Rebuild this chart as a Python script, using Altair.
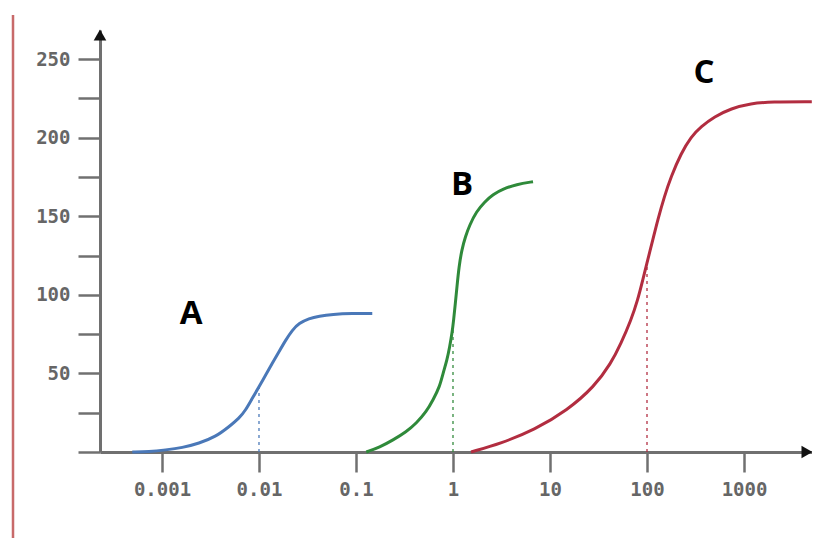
import altair as alt
import pandas as pd

# ---- data ----
a_x = [0.000494, 0.000735, 0.001091, 0.001618, 0.002404, 0.003581, 0.004909, 0.006223,
       0.007295, 0.008531, 0.01, 0.01172, 0.01371, 0.01607, 0.01884, 0.02208, 0.02582,
       0.03273, 0.04159, 0.05702, 0.09162, 0.1472]
a_y = [0, 0.2, 1.3, 2.7, 5.5, 9.7, 16.1, 21.4, 26.7, 34.2, 41.5, 49, 56.4, 63.8, 71.2,
       77.6, 81.9, 85.0, 86.5, 87.6, 88.2, 88.2]

b_x = [0.1276, 0.1754, 0.2404, 0.3304, 0.4188, 0.5309, 0.6223, 0.7295, 0.7889, 0.8670,
       0.9247, 0.9772, 1.016, 1.057, 1.099, 1.153, 1.230, 1.340, 1.486, 1.738, 2.123,
       2.582, 3.273, 4.498, 6.683]
b_y = [0, 3.0, 7.6, 12.9, 18.3, 25.6, 33.1, 41.6, 50.1, 58.5, 67.0, 75.5, 84.0, 94.6,
       105.2, 117.9, 128.5, 137, 144.4, 152.9, 159.2, 163.9, 167.3, 170.3, 172]

c_x = [1.535, 3.126, 6.887, 15.21, 28.64, 42.56, 53.95, 68.39, 80.17, 90.36, 101.6,
       114.6, 128.8, 150.7, 176.6, 224.4, 284.4, 360.6, 494.3, 734.5, 1180, 1897, 5000]
c_y = [0, 5.5, 14, 26.7, 41.6, 56.4, 69.1, 83.9, 96.6, 109.4, 122.1, 134.8, 147.5,
       162.4, 175.1, 190, 200.6, 207, 213.3, 218.6, 221.8, 222.8, 222.8]

drop_x = [0.01, 1, 100]
drop_y = [42, 78, 119]
drop_series = ["A", "B", "C"]

label_text = ["A", "B", "C"]
label_x = [0.0020, 1.24, 387]
label_y = [88, 170, 241]

x_ticks = [0.001, 0.01, 0.1, 1, 10, 100, 1000]
y_ticks = [0, 25, 50, 75, 100, 125, 150, 175, 200, 225, 250]

series = ["A", "B", "C"]
colors = ["#4a78b8", "#2f8a3a", "#b22d40"]

X_DOMAIN = [0.0002296, 5023]
Y_DOMAIN = [0, 268.5]

curves = pd.concat([
    pd.DataFrame({"x": a_x, "y": a_y, "s": "A", "o": range(len(a_x))}),
    pd.DataFrame({"x": b_x, "y": b_y, "s": "B", "o": range(len(b_x))}),
    pd.DataFrame({"x": c_x, "y": c_y, "s": "C", "o": range(len(c_x))}),
])
drops = pd.DataFrame({"x": drop_x, "y": drop_y, "y0": [0, 0, 0], "s": drop_series})
labels = pd.DataFrame({"x": label_x, "y": label_y, "t": label_text})

xscale = alt.Scale(type="log", domain=X_DOMAIN, nice=False)
yscale = alt.Scale(domain=Y_DOMAIN, nice=False, zero=False)
cscale = alt.Scale(domain=series, range=colors)

axis_common = dict(
    domainColor="#707070", domainWidth=3, tickColor="#707070", tickWidth=2.5,
    labelFont="DejaVu Sans Mono", labelFontSize=19, labelColor="#666666",
    labelFontWeight="bold", grid=False, title=None,
)

x_enc = alt.X("x:Q", scale=xscale,
              axis=alt.Axis(values=x_ticks, format=".3~f", tickSize=20, labelPadding=8,
                            labelFlush=False, labelOverlap=False, **axis_common))
y_enc = alt.Y("y:Q", scale=yscale,
              axis=alt.Axis(values=y_ticks, tickSize=22, labelPadding=8,
                            labelExpr="datum.value % 50 == 0 && datum.value > 0 ? datum.label : ''",
                            labelFlush=False, labelOverlap=False, **axis_common))

lines = alt.Chart(curves).mark_line(strokeWidth=3, interpolate="basis").encode(
    x=x_enc, y=y_enc,
    color=alt.Color("s:N", scale=cscale, legend=None),
    detail="s:N", order="o:Q",
)

dotted = alt.Chart(drops).mark_rule(strokeWidth=1.6, strokeDash=[3, 4], opacity=0.8).encode(
    x=alt.X("x:Q", scale=xscale),
    y=alt.Y("y0:Q", scale=yscale),
    y2="y:Q",
    color=alt.Color("s:N", scale=cscale, legend=None),
)

text = alt.Chart(labels).mark_text(font="Open Sans", fontWeight="bold", fontSize=33,
                                   color="black").encode(
    x=alt.X("x:Q", scale=xscale),
    y=alt.Y("y:Q", scale=yscale),
    text="t:N",
)

deco = pd.DataFrame({"k": [0]})
arrow_up = alt.Chart(deco).mark_point(shape="triangle-up", filled=True, size=160,
                                      color="#111111", opacity=1).encode(
    x=alt.value(0), y=alt.value(5))
arrow_right = alt.Chart(deco).mark_point(shape="triangle-right", filled=True, size=160,
                                         color="#111111", opacity=1).encode(
    x=alt.value(707), y=alt.value(422))
red_bar = alt.Chart(deco).mark_rule(color="#c86a6a", strokeWidth=2.5).encode(
    x=alt.value(-87), y=alt.value(-15), y2=alt.value(508))

chart = alt.layer(red_bar, dotted, lines, text, arrow_up, arrow_right).properties(
    width=712, height=422,
    padding={"left": 92, "top": 22, "right": 0, "bottom": 86},
    autosize=alt.AutoSizeParams(type="none"),
    background="white",
).configure_view(stroke=None)

chart.save("out.html", embed_options={"renderer": "svg", "actions": False})
